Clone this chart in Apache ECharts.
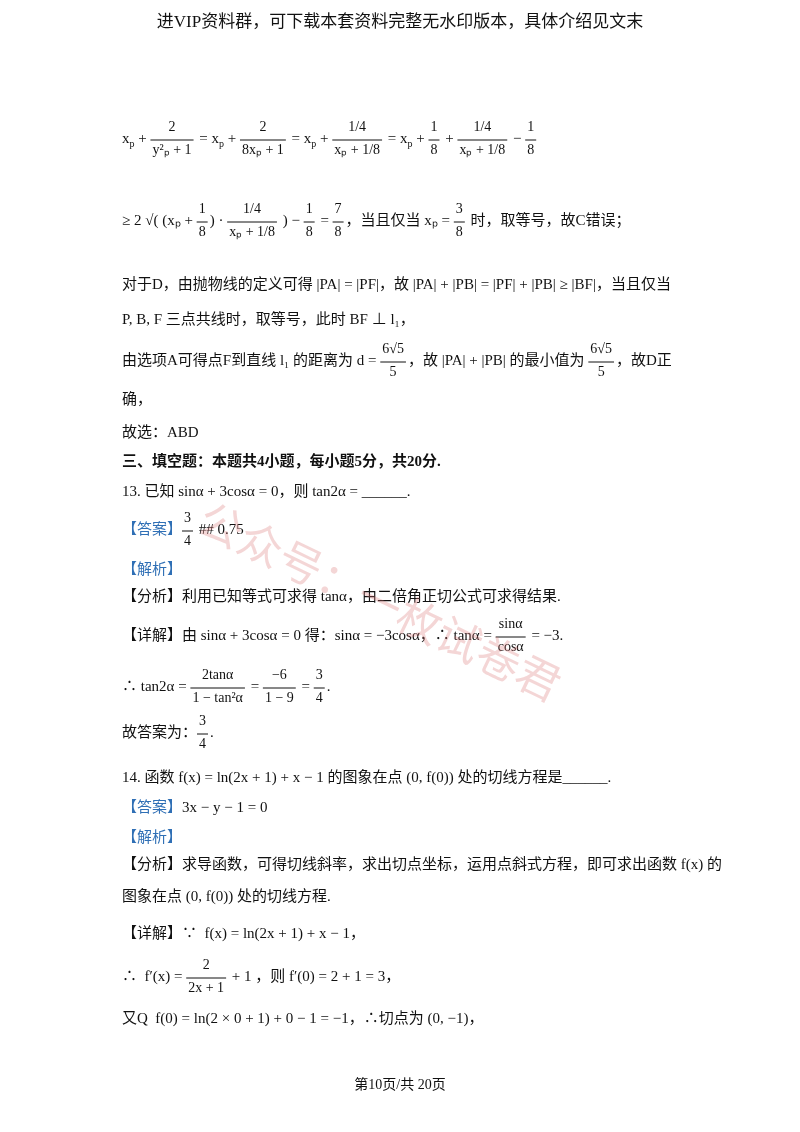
<!DOCTYPE html>
<html><head><meta charset="utf-8">
<script src="https://cdn.jsdelivr.net/npm/echarts@6/dist/echarts.min.js"></script>
<style>body{margin:0;background:#fff}#c{width:800px;height:1132px}</style>
</head><body><div id="c"></div>
<script>
// 页面文字行：每行由普通文字段和分数段 {n, d} 组成
var header = '进VIP资料群，可下载本套资料完整无水印版本，具体介绍见文末';
var footer = '第10页/共 20页';
var lineY = [140, 222, 286, 321, 362, 401, 434, 463, 493, 531, 571, 598, 637, 688, 734, 779, 809, 839, 866, 898, 935, 978, 1020];
var lineSegs = [
    ['x', {s: 'p'}, ' + ', {n: '2', d: 'y²ₚ + 1'}, ' = x', {s: 'p'}, ' + ', {n: '2', d: '8xₚ + 1'}, ' = x', {s: 'p'}, ' + ', {n: '1/4', d: 'xₚ + 1/8'}, ' = x', {s: 'p'}, ' + ', {n: '1', d: '8'}, ' + ', {n: '1/4', d: 'xₚ + 1/8'}, ' − ', {n: '1', d: '8'}],
    ['≥ 2 √( (xₚ + ', {n: '1', d: '8'}, ') · ', {n: '1/4', d: 'xₚ + 1/8'}, ' ) − ', {n: '1', d: '8'}, ' = ', {n: '7', d: '8'}, '，当且仅当 xₚ = ', {n: '3', d: '8'}, ' 时，取等号，故C错误；'],
    ['对于D，由抛物线的定义可得 |PA| = |PF|，故 |PA| + |PB| = |PF| + |PB| ≥ |BF|，当且仅当'],
    ['P, B, F 三点共线时，取等号，此时 BF ⊥ l₁，'],
    ['由选项A可得点F到直线 l₁ 的距离为 d = ', {n: '6√5', d: '5'}, '，故 |PA| + |PB| 的最小值为 ', {n: '6√5', d: '5'}, '，故D正'],
    ['确，'],
    ['故选：ABD'],
    [{b: '三、填空题：本题共4小题，每小题5分，共20分.'}],
    ['13. 已知 sinα + 3cosα = 0，则 tan2α = ______.'],
    [{blue: '【答案】'}, {n: '3', d: '4'}, ' ## 0.75'],
    [{blue: '【解析】'}],
    ['【分析】利用已知等式可求得 tanα，由二倍角正切公式可求得结果.'],
    ['【详解】由 sinα + 3cosα = 0 得：sinα = −3cosα，∴ tanα = ', {n: 'sinα', d: 'cosα'}, ' = −3.'],
    ['∴ tan2α = ', {n: '2tanα', d: '1 − tan²α'}, ' = ', {n: '−6', d: '1 − 9'}, ' = ', {n: '3', d: '4'}, '.'],
    ['故答案为：', {n: '3', d: '4'}, '.'],
    ['14. 函数 f(x) = ln(2x + 1) + x − 1 的图象在点 (0, f(0)) 处的切线方程是______.'],
    [{blue: '【答案】'}, '3x − y − 1 = 0'],
    [{blue: '【解析】'}],
    ['【分析】求导函数，可得切线斜率，求出切点坐标，运用点斜式方程，即可求出函数 f(x) 的'],
    ['图象在点 (0, f(0)) 处的切线方程.'],
    ['【详解】∵  f(x) = ln(2x + 1) + x − 1，'],
    ['∴  f′(x) = ', {n: '2', d: '2x + 1'}, ' + 1 ，则 f′(0) = 2 + 1 = 3，'],
    ['又Q  f(0) = ln(2 × 0 + 1) + 0 − 1 = −1，∴切点为 (0, −1)，']
];

var FONT = "'Liberation Serif','Noto Sans CJK SC'";
var ctx = document.createElement('canvas').getContext('2d');
function tw(t, size, w) { ctx.font = (w || 'normal') + ' ' + size + 'px ' + FONT; return ctx.measureText(t).width; }

var g = [];
function txt(x, y, t, opt) {
    opt = opt || {};
    g.push({type: 'text', left: x, top: y, style: {text: t, fontFamily: FONT, fontSize: opt.size || 15,
        fontWeight: opt.w || 'normal', fill: opt.fill || '#111'}});
}
lineSegs.forEach(function (segs, i) {
    var x = 122, y = lineY[i] - 8;
    segs.forEach(function (s) {
        if (typeof s === 'string') { txt(x, y, s); x += tw(s, 15); }
        else if (s.s) { txt(x, y + 7, s.s, {size: 10}); x += tw(s.s, 10); }
        else if (s.b) { txt(x, y, s.b, {w: 'bold'}); x += tw(s.b, 15, 'bold'); }
        else if (s.blue) { txt(x, y, s.blue, {fill: '#2f6fb5'}); x += tw(s.blue, 15); }
        else {
            var w = Math.max(tw(s.n, 14), tw(s.d, 14)) + 4;
            txt(x + (w - tw(s.n, 14)) / 2, y - 12, s.n, {size: 14});
            txt(x + (w - tw(s.d, 14)) / 2, y + 11, s.d, {size: 14});
            g.push({type: 'line', shape: {x1: x, y1: y + 8, x2: x + w, y2: y + 8}, style: {stroke: '#111', lineWidth: 1}});
            x += w + 2;
        }
    });
});
txt(400 - tw(header, 17) / 2, 14, header, {size: 17});
txt(400 - tw(footer, 14) / 2, 1078, footer, {size: 14});
g.push({type: 'text', left: 190, top: 500, rotation: -0.45, style: {text: '公众号：一枚试卷君', fontFamily: FONT,
    fontSize: 44, fill: 'rgba(220,120,120,0.3)'}});

var myChart = echarts.init(document.getElementById('c'));
myChart.setOption({backgroundColor: '#fff', graphic: g});
</script></body></html>
